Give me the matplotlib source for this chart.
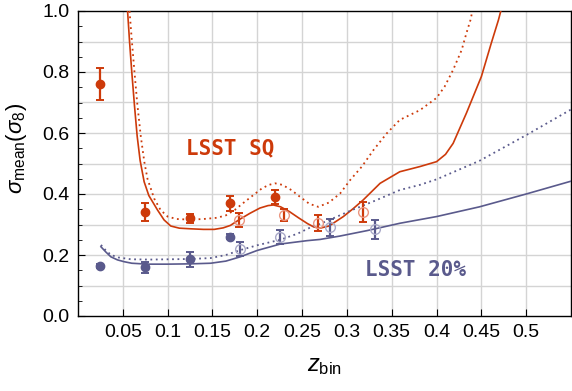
import numpy as np
import matplotlib
matplotlib.use("Agg")
import matplotlib.pyplot as plt
from matplotlib.ticker import MultipleLocator, FixedLocator

plt.rcParams['font.family'] = 'Liberation Sans'
plt.rcParams['mathtext.fontset'] = 'custom'
plt.rcParams['mathtext.rm'] = 'Liberation Sans'
plt.rcParams['mathtext.it'] = 'Liberation Sans:italic'

red = '#cd3a0a'
red_light = '#eb9580'
blue = '#5a5a8c'
blue_light = '#a9a9c8'

# forecast curves
sq_solid_x = [0.0553, 0.0575, 0.060, 0.063, 0.066, 0.0693, 0.0738, 0.079, 0.0886, 0.096, 0.1035,
              0.113, 0.125, 0.14, 0.152, 0.162, 0.17, 0.181, 0.192, 0.203, 0.212, 0.218, 0.226,
              0.236, 0.246, 0.256, 0.263, 0.27, 0.28, 0.296, 0.307, 0.318, 0.337, 0.359, 0.3815,
              0.40, 0.41, 0.4185, 0.4333, 0.45, 0.461, 0.469, 0.4717]
sq_solid_y = [1.0, 0.90, 0.80, 0.69, 0.59, 0.51, 0.44, 0.395, 0.348, 0.315, 0.295,
              0.288, 0.286, 0.284, 0.284, 0.289, 0.297, 0.318, 0.337, 0.354, 0.362, 0.364, 0.358,
              0.342, 0.322, 0.303, 0.292, 0.288, 0.295, 0.326, 0.352, 0.38, 0.435, 0.473, 0.49,
              0.506, 0.53, 0.566, 0.665, 0.785, 0.894, 0.97, 1.0]

sq_dot_x = [0.0575, 0.060, 0.063, 0.066, 0.070, 0.074, 0.0775, 0.085, 0.092, 0.10, 0.11, 0.125,
            0.14, 0.155, 0.165, 0.175, 0.185, 0.195, 0.205, 0.213, 0.22, 0.228, 0.238, 0.248,
            0.258, 0.268, 0.28, 0.2925, 0.3037, 0.3167, 0.3296, 0.3445, 0.359, 0.3815, 0.40,
            0.409, 0.4185, 0.428, 0.4333, 0.4378, 0.44]
sq_dot_y = [1.0, 0.905, 0.80, 0.70, 0.59, 0.505, 0.45, 0.385, 0.348, 0.326, 0.318, 0.316,
            0.318, 0.322, 0.33, 0.348, 0.372, 0.395, 0.418, 0.43, 0.435, 0.43, 0.413, 0.39,
            0.368, 0.358, 0.372, 0.402, 0.446, 0.49, 0.544, 0.599, 0.643, 0.675, 0.715,
            0.752, 0.807, 0.872, 0.927, 0.97, 1.0]

p20_solid_x = [0.0256, 0.031, 0.0367, 0.044, 0.0515, 0.06, 0.0775, 0.10, 0.1257, 0.148, 0.165,
               0.181, 0.20, 0.2258, 0.2555, 0.27, 0.292, 0.3226, 0.359, 0.40, 0.448, 0.50, 0.55]
p20_solid_y = [0.227, 0.21, 0.194, 0.184, 0.178, 0.173, 0.17, 0.17, 0.171, 0.173, 0.18,
               0.194, 0.215, 0.236, 0.247, 0.251, 0.262, 0.28, 0.304, 0.326, 0.358, 0.40, 0.442]

p20_dot_x = [0.0256, 0.031, 0.037, 0.045, 0.059, 0.08, 0.1257, 0.148, 0.165, 0.181, 0.20,
             0.2258, 0.245, 0.259, 0.2666, 0.2806, 0.3037, 0.333, 0.359, 0.3815, 0.40, 0.448,
             0.50, 0.55]
p20_dot_y = [0.233, 0.215, 0.20, 0.192, 0.186, 0.185, 0.187, 0.19, 0.20, 0.216, 0.232,
             0.25, 0.27, 0.29, 0.298, 0.315, 0.345, 0.38, 0.413, 0.43, 0.448, 0.509,
             0.593, 0.677]

# measured points
sq_x = [0.025, 0.075, 0.125, 0.17, 0.22]
sq_y = [0.76, 0.34, 0.32, 0.37, 0.39]
sq_err = [0.053, 0.03, 0.014, 0.025, 0.023]

sq_open_x = [0.18, 0.23, 0.268, 0.318]
sq_open_y = [0.315, 0.33, 0.306, 0.34]
sq_open_err = [0.023, 0.02, 0.026, 0.033]

p20_x = [0.025, 0.075, 0.125, 0.17]
p20_y = [0.164, 0.16, 0.186, 0.26]
p20_err = [0.006, 0.018, 0.024, 0.008]

p20_open_x = [0.181, 0.225, 0.281, 0.331]
p20_open_y = [0.22, 0.258, 0.291, 0.284]
p20_open_err = [0.022, 0.023, 0.028, 0.031]

xticks = [0.05, 0.1, 0.15, 0.2, 0.25, 0.3, 0.35, 0.4, 0.45, 0.5]
xtick_labels = ['0.05', '0.1', '0.15', '0.2', '0.25', '0.3', '0.35', '0.4', '0.45', '0.5']

fig = plt.figure(figsize=(5.72, 3.91), dpi=100)
ax = fig.add_axes([78 / 572, 1 - 316 / 391, 493 / 572, 305 / 391])

ax.plot(sq_solid_x, sq_solid_y, color=red, lw=1.2, zorder=3)
ax.plot(sq_dot_x, sq_dot_y, color=red, lw=1.3, ls=(0, (1, 2)), zorder=3)
ax.plot(p20_solid_x, p20_solid_y, color=blue, lw=1.2, zorder=3)
ax.plot(p20_dot_x, p20_dot_y, color=blue, lw=1.3, ls=(0, (1, 2)), zorder=3)

ax.errorbar(sq_x, sq_y, yerr=sq_err, fmt='o', color=red, ms=6, elinewidth=1.6,
            capsize=3, capthick=1.4, zorder=4)
ax.errorbar(sq_open_x, sq_open_y, yerr=sq_open_err, fmt='none', ecolor=red,
            elinewidth=1.6, capsize=3, capthick=1.4, zorder=4)
ax.plot(sq_open_x, sq_open_y, 'o', mfc='none', mec=red_light, ms=7, mew=1, zorder=4)

ax.errorbar(p20_x, p20_y, yerr=p20_err, fmt='o', color=blue, ms=6, elinewidth=1.6,
            capsize=3, capthick=1.4, zorder=4)
ax.errorbar(p20_open_x, p20_open_y, yerr=p20_open_err, fmt='none', ecolor=blue,
            elinewidth=1.6, capsize=3, capthick=1.4, zorder=4)
ax.plot(p20_open_x, p20_open_y, 'o', mfc='none', mec=blue_light, ms=7, mew=1, zorder=4)

ax.text(0.170, 0.55, 'LSST SQ', color=red, fontsize=15, fontweight='bold',
        family='DejaVu Sans Mono', ha='center', va='center')
ax.text(0.376, 0.152, 'LSST 20%', color=blue, fontsize=15, fontweight='bold',
        family='DejaVu Sans Mono', ha='center', va='center')

ax.set_xlim(0, 0.55)
ax.set_ylim(0, 1.0)
ax.xaxis.set_major_locator(FixedLocator(xticks))
ax.set_xticklabels(xtick_labels)
ax.yaxis.set_major_locator(MultipleLocator(0.2))
ax.yaxis.set_minor_locator(MultipleLocator(0.05))
ax.yaxis.set_major_formatter(matplotlib.ticker.FormatStrFormatter('%.1f'))

for g in np.arange(0.1, 1.0, 0.1):
    ax.axhline(g, color='#d4d4d4', lw=1.0, zorder=1)
for g in xticks:
    ax.axvline(g, color='#d4d4d4', lw=1.0, zorder=1)

ax.tick_params(axis='both', which='major', direction='in', length=5, width=0.8,
               labelsize=14, colors='black', pad=6)
ax.tick_params(axis='y', which='minor', direction='in', length=3, width=0.6)
for s in ax.spines.values():
    s.set_linewidth(1.0)

ax.set_xlabel(r'$z_{\rm bin}$', fontsize=17, labelpad=10)
ax.set_ylabel(r'$\sigma_{\rm mean}(\sigma_8)$', fontsize=16)
ax.yaxis.set_label_coords(-0.10, 0.55)

fig.savefig('out.png', dpi=100)
